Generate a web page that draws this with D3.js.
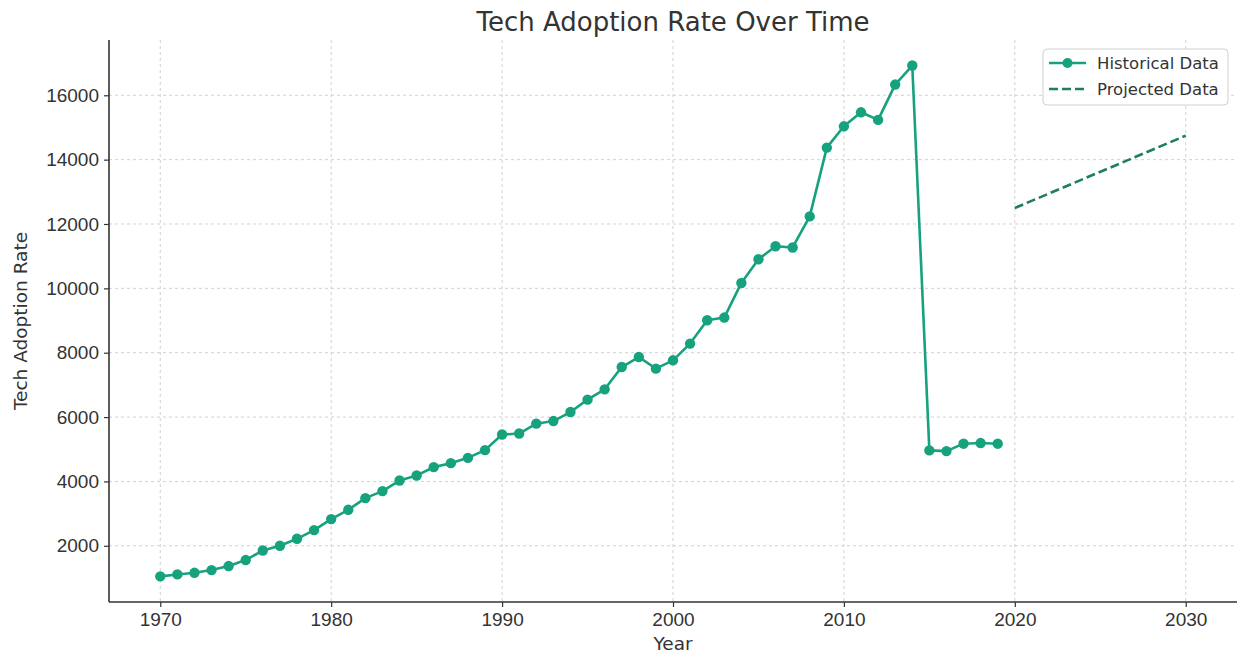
<!DOCTYPE html>
<html>
<head>
<meta charset="utf-8">
<script src="https://cdn.jsdelivr.net/npm/d3@7"></script>
<style>
  body { margin: 0; background: #fff; }
  svg { font-family: "DejaVu Sans", sans-serif; }
</style>
</head>
<body>
<div id="chart"></div>
<script>
// historical series
const histYears = d3.range(1970, 2020);
const histValues = [
  1050, 1110, 1160, 1245, 1370, 1556, 1855, 2000, 2217, 2487,
  2829, 3118, 3481, 3699, 4028, 4183, 4444, 4568, 4733, 4972,
  5457, 5488, 5795, 5876, 6156, 6541, 6862, 7555, 7866, 7505,
  7764, 8283, 9008, 9092, 10168, 10905, 11310, 11270, 12236, 14373,
  15036, 15471, 15235, 16333, 16924, 4964, 4943, 5173, 5192, 5173
];
// projection
const projYears = [2020, 2030];
const projValues = [12498, 14746];

const xTicks = [1970, 1980, 1990, 2000, 2010, 2020, 2030];
const yTicks = [2000, 4000, 6000, 8000, 10000, 12000, 14000, 16000];

const W = 1246, H = 657;
const m = { left: 109, right: 9, top: 40, bottom: 55 };
const histColor = "#17a27e", projColor = "#1d7f5d", textColor = "#333";

const svg = d3.select("#chart").append("svg")
  .attr("width", W).attr("height", H);

const x = d3.scaleLinear().domain([1967, 2033]).range([m.left, W - m.right]);
const y = d3.scaleLinear().domain([253, 17718]).range([H - m.bottom, m.top]);

// grid
const grid = svg.append("g").attr("stroke", "#cccccc").attr("stroke-width", 0.9)
  .attr("stroke-dasharray", "3,3");
grid.selectAll(".gx").data(xTicks).join("line")
  .attr("x1", d => x(d)).attr("x2", d => x(d))
  .attr("y1", m.top).attr("y2", H - m.bottom);
grid.selectAll(".gy").data(yTicks).join("line")
  .attr("x1", m.left).attr("x2", W - m.right)
  .attr("y1", d => y(d)).attr("y2", d => y(d));

// axes
const xAxis = svg.append("g")
  .attr("transform", `translate(0,${H - m.bottom})`)
  .call(d3.axisBottom(x).tickValues(xTicks).tickFormat(d3.format("d")).tickSize(5).tickPadding(6));
const yAxis = svg.append("g")
  .attr("transform", `translate(${m.left},0)`)
  .call(d3.axisLeft(y).tickValues(yTicks).tickFormat(d3.format("d")).tickSize(5).tickPadding(5));

[xAxis, yAxis].forEach(a => {
  a.select(".domain").attr("stroke", "#333").attr("stroke-width", 1.6);
  a.selectAll(".tick line").attr("stroke", "#333").attr("stroke-width", 1.2);
  a.selectAll(".tick text").attr("fill", textColor).style("font-size", "19px");
});
xAxis.select(".domain").attr("d", `M${m.left},0H${W - m.right}`);
yAxis.select(".domain").attr("d", `M0,${m.top}V${H - m.bottom}`);

// historical line
const hist = histYears.map((d, i) => ({ year: d, value: histValues[i] }));
const proj = projYears.map((d, i) => ({ year: d, value: projValues[i] }));
const line = d3.line().x(d => x(d.year)).y(d => y(d.value));

svg.append("path").datum(hist)
  .attr("fill", "none").attr("stroke", histColor).attr("stroke-width", 2.6)
  .attr("stroke-linejoin", "round")
  .attr("d", line);
svg.selectAll(".pt").data(hist).join("circle")
  .attr("cx", d => x(d.year)).attr("cy", d => y(d.value))
  .attr("r", 5.2).attr("fill", histColor);

svg.append("path").datum(proj)
  .attr("fill", "none").attr("stroke", projColor).attr("stroke-width", 2.6)
  .attr("stroke-dasharray", "9,4")
  .attr("d", line);

// title and labels
svg.append("text").attr("x", (m.left + W - m.right) / 2).attr("y", 31)
  .attr("text-anchor", "middle").attr("fill", textColor)
  .style("font-size", "26px").text("Tech Adoption Rate Over Time");
svg.append("text").attr("x", (m.left + W - m.right) / 2).attr("y", 650)
  .attr("text-anchor", "middle").attr("fill", textColor)
  .style("font-size", "18.5px").text("Year");
svg.append("text")
  .attr("transform", `translate(27,${(m.top + H - m.bottom) / 2}) rotate(-90)`)
  .attr("text-anchor", "middle").attr("fill", textColor)
  .style("font-size", "18.5px").text("Tech Adoption Rate");

// legend
const lg = svg.append("g").attr("transform", "translate(1043,49)");
lg.append("rect").attr("width", 185).attr("height", 56).attr("rx", 4)
  .attr("fill", "#fff").attr("fill-opacity", 0.85)
  .attr("stroke", "#d0d0d0").attr("stroke-width", 1);
const items = [
  { label: "Historical Data", color: histColor, dash: null, marker: true },
  { label: "Projected Data", color: projColor, dash: "9,4", marker: false }
];
items.forEach((it, i) => {
  const yy = 14 + i * 26;
  lg.append("line").attr("x1", 6).attr("x2", 43).attr("y1", yy).attr("y2", yy)
    .attr("stroke", it.color).attr("stroke-width", 2.6)
    .attr("stroke-dasharray", it.dash);
  if (it.marker) lg.append("circle").attr("cx", 24.5).attr("cy", yy).attr("r", 5).attr("fill", it.color);
  lg.append("text").attr("x", 54).attr("y", yy + 6).attr("fill", textColor)
    .style("font-size", "16.5px").text(it.label);
});
</script>
</body>
</html>
